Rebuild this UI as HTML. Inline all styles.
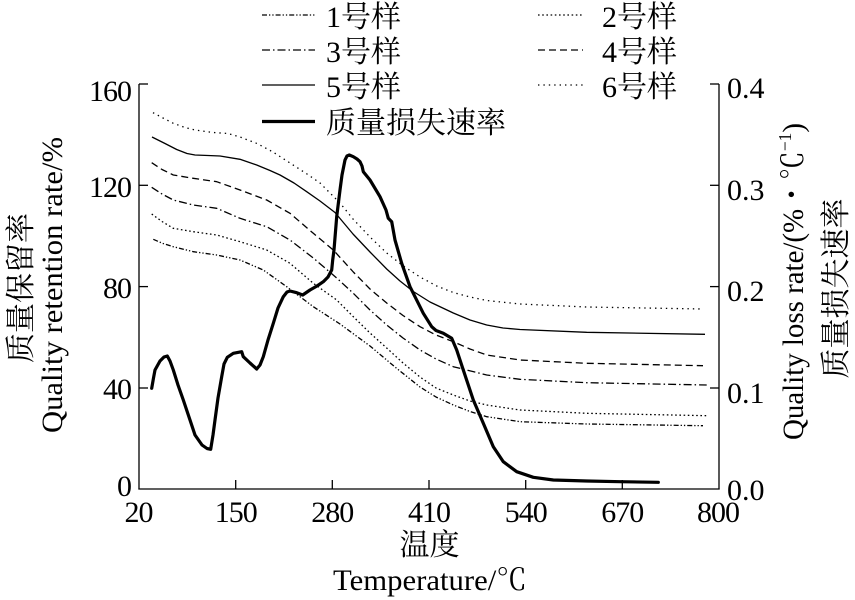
<!DOCTYPE html>
<html><head><meta charset="utf-8"><style>
html,body{margin:0;padding:0;background:#fff;}
svg{display:block;}
text{font-family:"Liberation Serif","Noto Serif CJK SC",serif;fill:#000;}
</style></head><body>
<svg width="855" height="600" viewBox="0 0 855 600" xmlns="http://www.w3.org/2000/svg">
<rect width="855" height="600" fill="#fff"/>
<!-- axes -->
<g stroke="#000" stroke-width="1.3" fill="none">
<line x1="139" y1="84" x2="139" y2="489.5"/>
<line x1="719" y1="84" x2="719" y2="489.5"/>
<line x1="138.4" y1="489" x2="719.6" y2="489"/>
<line x1="139" y1="84" x2="148" y2="84"/>
<line x1="139" y1="185.3" x2="148" y2="185.3"/>
<line x1="139" y1="286.6" x2="148" y2="286.6"/>
<line x1="139" y1="388" x2="148" y2="388"/>
<line x1="710" y1="84" x2="719" y2="84"/>
<line x1="710" y1="185.3" x2="719" y2="185.3"/>
<line x1="710" y1="286.6" x2="719" y2="286.6"/>
<line x1="710" y1="388" x2="719" y2="388"/>
<line x1="235.7" y1="489" x2="235.7" y2="480"/>
<line x1="332.3" y1="489" x2="332.3" y2="480"/>
<line x1="429" y1="489" x2="429" y2="480"/>
<line x1="525.7" y1="489" x2="525.7" y2="480"/>
<line x1="622.3" y1="489" x2="622.3" y2="480"/>
</g>
<g font-size="30" text-anchor="end" letter-spacing="-1">
<text x="131" y="101">160</text>
<text x="131" y="197">120</text>
<text x="131" y="298">80</text>
<text x="131" y="399">40</text>
<text x="131" y="496">0</text>
</g>
<g font-size="30" text-anchor="start">
<text x="727" y="98">0.4</text>
<text x="727" y="200">0.3</text>
<text x="727" y="301">0.2</text>
<text x="727" y="403">0.1</text>
<text x="727" y="500">0.0</text>
</g>
<g font-size="30" text-anchor="middle" letter-spacing="-1">
<text x="138.5" y="522">20</text>
<text x="235.7" y="522">150</text>
<text x="332.3" y="522">280</text>
<text x="429" y="522">410</text>
<text x="525.7" y="522">540</text>
<text x="622.3" y="522">670</text>
<text x="718" y="522">800</text>
</g>
<text x="429.5" y="555" font-size="30" text-anchor="middle">温度</text>
<text x="430" y="590" font-size="30" text-anchor="middle" textLength="194" lengthAdjust="spacingAndGlyphs">Temperature/℃</text>
<text transform="translate(31,288) rotate(-90)" font-size="30" text-anchor="middle">质量保留率</text>
<text transform="translate(62,285) rotate(-90)" font-size="30" text-anchor="middle" textLength="296" lengthAdjust="spacingAndGlyphs">Quality retention rate/%</text>
<text transform="translate(803,281.5) rotate(-90)" font-size="30" text-anchor="middle" textLength="317" lengthAdjust="spacingAndGlyphs">Quality loss rate/(%・℃<tspan font-size="18" dy="-12">−1</tspan><tspan dy="12">)</tspan></text>
<text transform="translate(846,288.5) rotate(-90)" font-size="30" text-anchor="middle">质量损失速率</text>

<g fill="none" stroke="#000" stroke-width="1.3" stroke-linejoin="round">
<polyline stroke-dasharray="1.4,4" points="153,112.7 163,118 173.3,123.3 185,127.5 195,130 213,132.5 228,133.5 240,137 257,143.5 273,152 290,163 307,174 320,183 340,203 353,219 370,237 386.7,253 403.3,266 420,277 436.7,286 453.3,292.5 470,297 486.7,300.5 520,304 586.7,307 703,309"/>
<polyline points="152,137 165,143.5 176.7,149.5 187,153.5 195,155 208,155.5 220,156 240,159.3 256.7,165 270,170.5 280,175 294,183 306.7,191.7 320,201 335,212.5 353,234 370,252 386.7,269 400,281 413.3,291.5 430,302 453.3,313 470,320 486.7,325 503,328 520,329.5 586.7,332.3 705,334.3"/>
<polyline stroke-dasharray="7,4" points="151.7,162.7 162,169.5 173.3,175 193.3,178.3 216.7,181.7 240,190 266.7,200 290,213.3 313.3,233.3 333.3,250 353.3,272 370,289 386.7,303 403,315.5 420,326.7 436,335 453.3,341.7 470,349 486.7,355 520,360 586.7,363.3 703,365.7"/>
<polyline stroke-dasharray="8,3,1.5,3" points="151.7,187.3 162,194 173.3,200 193.3,205 216.7,208.3 240,218.3 266.7,226.7 290,240 313.3,258 336.7,278 353.3,293.3 370,310 386.7,325 403,338 420,350 436,359 453.3,366.7 486.7,375 520,379.3 586.7,382.7 706.7,385"/>
<polyline stroke-dasharray="1.6,2.6" points="151.7,214 162,221.5 173.3,228.3 193.3,231.7 216.7,235 240,241.7 266.7,250 290,263.3 313.3,283.3 336.7,300 353.3,316.7 370,333 386.7,348 403,363 420,377 436,388 453.3,395 470,401 486.7,405 520,410 586.7,413.3 706.7,415.7"/>
<polyline stroke-dasharray="5,2,1.3,2,1.3,2" points="153.3,239.3 163,243.5 173.3,246.7 193.3,251.7 216.7,255 240,260 263.3,270 286.7,286.7 313.3,306.7 340,324 370,346 395,367 420,387 436,397 453.3,405 470,411.5 486.7,416.7 520,421.7 586.7,424 703,425.7"/>
</g>
<polyline fill="none" stroke="#000" stroke-width="3.2" stroke-linejoin="round" stroke-linecap="round" points="151.7,388.3 153.5,378 155,370 160,361 164,357 167.3,356 170,361 173.3,370 178,385 183.3,400 190,420 195,435 202,445 207,448.5 210.7,449.3 213,435 215,420 218,398 221.7,376.7 224,364 227.3,357.3 233.3,353.3 241.7,351.7 243.3,356.7 250,363 256.7,369 260,365 263.3,356.7 268,340 273.3,323.3 278,308 283.3,296.7 287,292 290,291 296.7,292.7 302.7,295 310,290 317,286 323.3,281.7 328,277 331.7,270 332.7,260 334,250 336.7,216.7 340,190 342,175 345,160 347,156 349.3,155 353.3,156.7 357,159 360,161.7 362,166 363.3,171.7 370,180 380,196.7 386,210 388.3,218.3 391.7,221.7 395,240 401.7,263.3 410,286.7 418.3,303.3 423.3,313.3 431.7,326.7 436,330.5 443.3,333.3 451.7,338.3 456.7,350 463.3,370 473.3,400 483.3,423.3 493.3,446.7 503.3,461.7 516.7,471.7 533.3,477.3 553.3,480 586.7,481 620,481.7 658.3,482.3"/>

<g fill="none" stroke="#000" stroke-width="1.3">
<line x1="262" y1="15" x2="315" y2="15" stroke-dasharray="5,2,1.3,2,1.3,2"/>
<line x1="262" y1="50" x2="315" y2="50" stroke-dasharray="8,3,1.5,3"/>
<line x1="262" y1="85" x2="315" y2="85"/>
<line x1="262" y1="121.5" x2="315" y2="121.5" stroke-width="3.2"/>
<line x1="538" y1="15" x2="583" y2="15" stroke-dasharray="1.6,2.6"/>
<line x1="538" y1="50" x2="583" y2="50" stroke-dasharray="7,4"/>
<line x1="538" y1="85" x2="583" y2="85" stroke-dasharray="1.4,4"/>
</g>
<g font-size="30">
<text x="326" y="27">1号样</text>
<text x="326" y="62">3号样</text>
<text x="326" y="97">5号样</text>
<text x="326" y="133">质量损失速率</text>
<text x="602" y="27">2号样</text>
<text x="602" y="62">4号样</text>
<text x="602" y="97">6号样</text>
</g>
</svg>
</body></html>
